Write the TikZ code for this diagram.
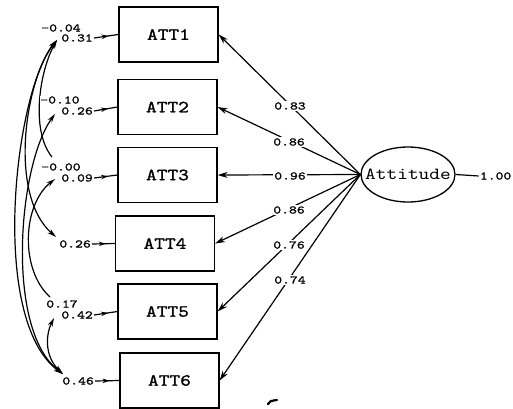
\documentclass[tikz,border=0pt]{standalone}
\usepackage{fontspec}
\newfontfamily\plotfont[FakeStretch=1.2,FakeBold=1.2]{lmmono10-regular.otf}
\newfontfamily\latfont[FakeStretch=1.2]{lmmono10-regular.otf}
\newfontfamily\numfont[FakeStretch=1.3,FakeBold=1.5]{lmmono10-regular.otf}
\usetikzlibrary{shapes.geometric,arrows.meta,decorations.markings}
\tikzset{
  obsbox/.style={draw, line width=1.3pt, minimum width=99pt, minimum height=55pt, inner sep=0pt,
    font={\plotfont\fontsize{17}{19}\selectfont}},
  latentell/.style={draw, line width=1.3pt, ellipse, minimum width=94pt, minimum height=55pt, inner sep=0pt},
  numlab/.style={font={\numfont\fontsize{11.5}{12}\selectfont}, inner sep=1pt},
  whitelab/.style={numlab, fill=white},
  load/.style={line width=1.2pt, -{Stealth[length=10pt,width=6pt]}},
  covtip/.style={line width=1.2pt},
  errarrow/.style={line width=1.2pt, postaction={decorate},
    decoration={markings, mark=at position 0.6 with {\arrow{Stealth[length=7pt,width=4.5pt]}}}},
}
\begin{document}
\begin{tikzpicture}[x=1pt,y=-1pt]
\clip (0,0) rectangle (513,408);
\fill[white] (0,0) rectangle (513,408);

% observed variables
\node[obsbox] (a1) at (168.5,34.5) {ATT1};
\node[obsbox] (a2) at (167.5,107) {ATT2};
\node[obsbox] (a3) at (167.5,175) {ATT3};
\node[obsbox] (a4) at (165,243.5) {ATT4};
\node[obsbox] (a5) at (167.5,311.5) {ATT5};
\node[obsbox] (a6) at (169.5,380.5) {ATT6};

% latent variable
\node[latentell, label={[font={\latfont\fontsize{17}{19}\selectfont}]center:Attitude}] (att) at (408,174.5) {};
\node[numlab, anchor=east] (var) at (512.5,176) {1.00};
\draw[line width=1.2pt] (att.east) -- (var.west);

% loadings
\draw[load] (att.west) -- (a1.east);
\draw[load] (att.west) -- (a2.east);
\draw[load] (att.west) -- (a3.east);
\draw[load] (att.west) -- (a4.east);
\draw[load] (att.west) -- (a5.east);
\draw[load] (att.west) -- (a6.east);
\node[whitelab] (l1) at (290,106) {0.83};
\node[whitelab] (l2) at (289,142) {0.86};
\node[whitelab] (l3) at (290,176) {0.96};
\node[whitelab] (l4) at (289,210) {0.86};
\node[whitelab] (l5) at (289,245) {0.76};
\node[whitelab] (l6) at (290,280) {0.74};

% error variances
\node[numlab, anchor=east] (e1) at (94,38) {0.31};
\node[numlab, anchor=east] (e2) at (94,111) {0.26};
\node[numlab, anchor=east] (e3) at (94,178) {0.09};
\node[numlab, anchor=east] (e4) at (92,244) {0.26};
\node[numlab, anchor=east] (e5) at (94,315) {0.42};
\node[numlab, anchor=east] (e6) at (95,381) {0.46};
\draw[errarrow] (e1.east) -- (a1.west);
\draw[errarrow] (e2.east) -- (a2.west);
\draw[errarrow] (e3.east) -- (a3.west);
\draw[errarrow] (e4.east) -- (a4.west);
\draw[errarrow] (e5.east) -- (a5.west);
\draw[errarrow] (e6.east) -- (a6.west);

% end points of the error covariance curves
\coordinate (E1) at (57,40);
\coordinate (E2) at (55,114);
\coordinate (E3) at (55,179);
\coordinate (E3b) at (52,157);
\coordinate (E4) at (56,237);
\coordinate (E5) at (54,318);
\coordinate (E5b) at (50,297);
\coordinate (E6) at (63,374);

\draw[covtip, {Stealth[length=9pt,width=5pt]}-{Stealth[length=9pt,width=5pt]}]
  (E1) .. controls (15,90) and (-12,320) .. (E6);
\draw[covtip, {Stealth[length=9pt,width=5pt]}-{Stealth[length=9pt,width=5pt]}]
  (E1) .. controls (25,80) and (8,195) .. (E4);
\draw[covtip, {Stealth[length=9pt,width=5pt]}-]
  (E1) .. controls (40,70) and (30,130) .. (E3b);
\draw[covtip, {Stealth[length=9pt,width=5pt]}-{Stealth[length=9pt,width=5pt]}]
  (E2) .. controls (18,165) and (5,330) .. (E6);
\draw[covtip, {Stealth[length=9pt,width=5pt]}-]
  (E3) .. controls (22,205) and (20,270) .. (E5b);
\draw[covtip, {Stealth[length=9pt,width=5pt]}-{Stealth[length=9pt,width=5pt]}]
  (E5) .. controls (46,334) and (44,356) .. (E6);

% covariance labels
\node[whitelab, inner sep=0.5pt] (c1) at (61,28) {-0.04};
\node[whitelab, inner sep=0.5pt] (c2) at (60,100) {-0.10};
\node[whitelab, inner sep=0.5pt] (c3) at (61,167) {-0.00};
\node[whitelab, inner sep=0.5pt] (c4) at (62,304) {0.17};

% scan mark
\draw[line width=2.2pt, line cap=round] (268,404) .. controls (270,401) .. (277,400);
\end{tikzpicture}
\end{document}
